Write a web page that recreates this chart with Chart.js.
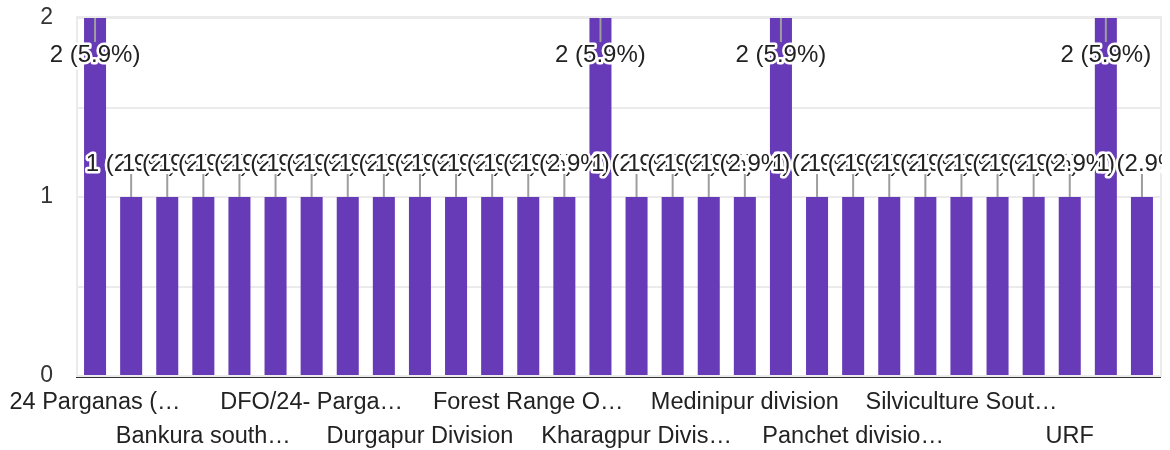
<!DOCTYPE html>
<html>
<head>
<meta charset="utf-8">
<script src="https://cdn.jsdelivr.net/npm/chart.js@4.4.1/dist/chart.umd.min.js"></script>
<style>
  html, body { margin: 0; padding: 0; background: #fff; }
  #wrap { width: 1170px; height: 450px; position: relative; }
</style>
</head>
<body>
<div id="wrap"><canvas id="responsesChart"></canvas></div>
<script>
// categories (alphabetical, as in the form summary)
const categories = [
  "24 Parganas (WL) Division", "Bankura", "Bankura North Division",
  "Bankura south division", "Bardhaman Division", "Birbhum Division",
  "DFO/24- Parganas (South)", "DFO/Purulia Division", "Darjeeling Division",
  "Durgapur Division", "East Midnapore Division", "Forest Directorate",
  "Forest Range Office, Jhargram", "Jalpaiguri Division", "Jhargram Division",
  "Kharagpur Division, Paschim Medinipur", "Kurseong Division", "Malda Division",
  "Medinipur division", "Nadia-Murshidabad Division", "North 24 Parganas",
  "Panchet division, Bankura", "Purulia Division", "Rupnarayan Division",
  "Silviculture South Division", "Social Forestry Division", "Sundarban Biosphere Reserve",
  "URF", "West Bengal Forest Dept", "Wildlife Division"
];
const responses = [2, 1, 1, 1, 1, 1, 1, 1, 1, 1, 1, 1, 1, 1, 2, 1, 1, 1, 1, 2, 1, 1, 1, 1, 1, 1, 1, 1, 2, 1];
const yTicks = [0, 1, 2];

const total = responses.reduce((a, b) => a + b, 0);
const FONT = "'Liberation Sans', Arial, sans-serif";
const LABEL_SIZE = 23.5;

// shorten a label with an ellipsis so it fits the given width
const measureCtx = document.createElement('canvas').getContext('2d');
function fitLabel(text, maxW) {
    measureCtx.font = LABEL_SIZE + "px " + FONT;
    if (measureCtx.measureText(text).width <= maxW) return text;
    let s = text;
    while (s.length > 1 && measureCtx.measureText(s + "\u2026").width > maxW) s = s.slice(0, -1);
    return s.trimEnd() + "\u2026";
}

// light frame around the plot area
const framePlugin = {
    id: 'frame',
    beforeDatasetsDraw(chart) {
        const { ctx, chartArea: a } = chart;
        ctx.save();
        ctx.strokeStyle = '#ebebeb';
        ctx.lineWidth = 2;
        ctx.strokeRect(a.left, a.top - 1, a.right - a.left + 1, a.bottom - a.top + 1);
        ctx.restore();
    }
};

// "n (x%)" annotations with leader lines, drawn left to right
const annotationPlugin = {
    id: 'annotations',
    afterDatasetsDraw(chart) {
        const { ctx, chartArea: a } = chart;
        const meta = chart.getDatasetMeta(0);
        ctx.save();
        ctx.beginPath();
        ctx.rect(0, 0, a.right + 2, chart.height);
        ctx.clip();
        ctx.font = "24px " + FONT;
        ctx.textAlign = 'center';
        ctx.textBaseline = 'middle';
        ctx.lineJoin = 'round';
        meta.data.forEach((bar, i) => {
            const v = responses[i];
            const pct = (v / total * 100).toFixed(1);
            const text = v + " (" + pct + "%)";
            let textY, y1, y2;
            if (bar.y - a.top < 40) {
                textY = bar.y + 37;
                y1 = bar.y; y2 = textY - 13;
            } else {
                textY = bar.y - 33;
                y1 = textY + 10; y2 = bar.y;
            }
            ctx.strokeStyle = '#9e9e9e';
            ctx.lineWidth = 2;
            ctx.beginPath();
            ctx.moveTo(bar.x, y1);
            ctx.lineTo(bar.x, y2);
            ctx.stroke();
            ctx.strokeStyle = '#ffffff';
            ctx.lineWidth = 5;
            ctx.strokeText(text, bar.x, textY);
            ctx.fillStyle = '#222222';
            ctx.fillText(text, bar.x, textY);
        });
        ctx.restore();
    }
};

new Chart(document.getElementById('responsesChart'), {
    type: 'bar',
    data: {
        labels: categories,
        datasets: [{
            data: responses,
            backgroundColor: '#673ab7',
            borderWidth: 0,
            barPercentage: 0.61,
            categoryPercentage: 1.0
        }]
    },
    options: {
        responsive: true,
        maintainAspectRatio: false,
        animation: false,
        layout: { padding: { top: 18, right: 10, left: 0, bottom: 0 } },
        plugins: {
            legend: { display: false },
            tooltip: { enabled: false }
        },
        scales: {
            x: {
                grid: { display: false, drawTicks: false },
                border: { display: true, color: '#333333', width: 3 },
                ticks: {
                    autoSkip: false,
                    maxRotation: 0,
                    minRotation: 0,
                    padding: 10,
                    color: '#222222',
                    font: { size: LABEL_SIZE, family: FONT, lineHeight: 1.42 },
                    callback: function (value, index) {
                        if (index % 3 !== 0) return '';
                        const label = fitLabel(categories[index], 192.5);
                        return (index / 3) % 2 === 0 ? [label, ''] : ['', label];
                    }
                },
                afterFit: (scale) => {
                    scale.height = 74;
                    scale.paddingLeft = 0;
                    scale.paddingRight = 0;
                }
            },
            y: {
                min: 0,
                max: 2,
                grid: { color: '#ebebeb', lineWidth: 2, drawTicks: false },
                border: { display: false },
                ticks: {
                    stepSize: 0.5,
                    padding: 24,
                    color: '#333333',
                    font: { size: 23, family: FONT },
                    callback: (v) => yTicks.includes(v) ? String(v) : ''
                },
                afterFit: (scale) => {
                    scale.width = 77;
                    scale.paddingTop = 0;
                    scale.paddingBottom = 0;
                }
            }
        }
    },
    plugins: [framePlugin, annotationPlugin]
});
</script>
</body>
</html>
